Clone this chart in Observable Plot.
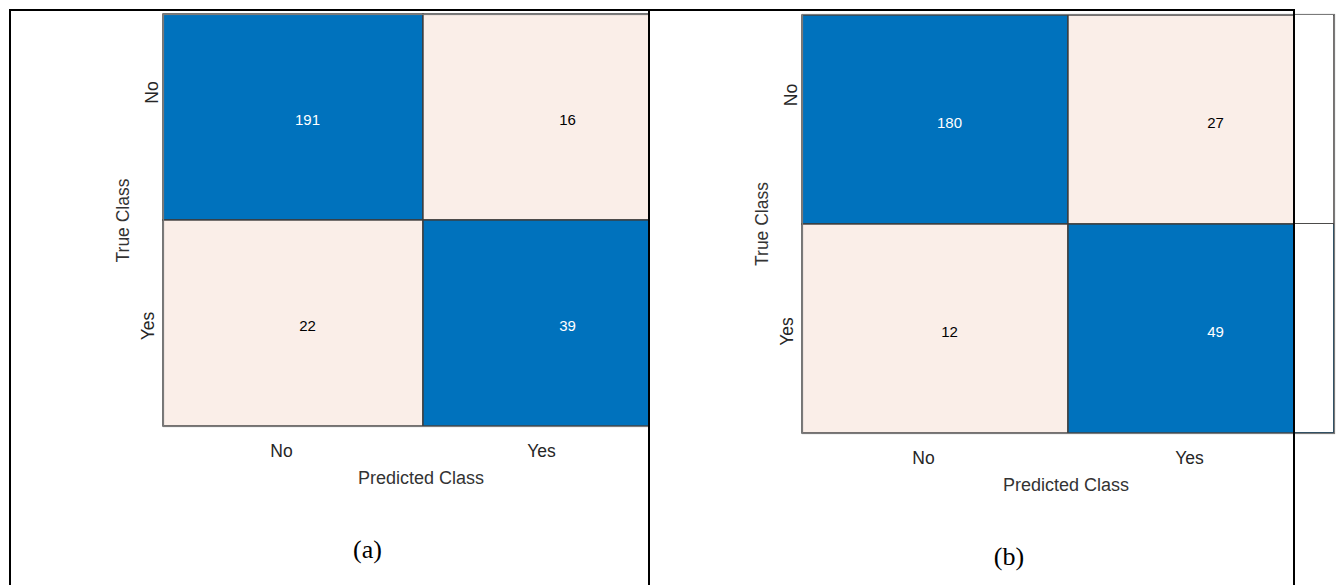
<!DOCTYPE html>
<html>
<head>
<meta charset="utf-8">
<script src="https://cdn.jsdelivr.net/npm/d3@7"></script>
<script src="https://cdn.jsdelivr.net/npm/@observablehq/plot@0.6"></script>
<style>
  html, body { margin: 0; padding: 0; background: #fff; }
  #page { position: relative; width: 1340px; height: 585px; overflow: hidden; background: #fff; }
  #page svg { position: absolute; top: 0; }
  .rule { position: absolute; background: #000; }
  .mask { position: absolute; background: #fff; }
</style>
</head>
<body>
<div id="page"></div>
<script>
// Class labels shared by both confusion matrices
const classes = ["No", "Yes"];
// Counts: rows = true class, columns = predicted class
const countsA = [[191, 16], [22, 39]];
const countsB = [[180, 27], [12, 49]];
const panelTags = ["(a)", "(b)"];
const xTitle = "Predicted Class";
const yTitle = "True Class";

const HIT = "#0072BD";
const MISS = "#FAEEE8";
const SANS = "'Liberation Sans', Arial, Helvetica, sans-serif";

function cells(counts) {
  return counts.flatMap((row, i) =>
    row.map((v, j) => ({actual: classes[i], predicted: classes[j], count: v}))
  );
}

function matrix(counts, tag, o) {
  const data = cells(counts);
  const diag = d => d.actual === d.predicted;
  const svg = Plot.plot({
    width: o.width,
    height: 585,
    marginLeft: o.left,
    marginRight: o.right,
    marginTop: 14,
    marginBottom: o.bottom,
    style: {background: "white", fontFamily: SANS, overflow: "visible"},
    x: {domain: classes, padding: 0, axis: null},
    y: {domain: classes, padding: 0, axis: null},
    color: {domain: ["hit", "miss"], range: [HIT, MISS]},
    marks: [
      Plot.cell(data, {
        x: "predicted", y: "actual",
        fill: d => diag(d) ? "hit" : "miss",
        stroke: "#3c3c3c", strokeWidth: 1.4, inset: 0
      }),
      Plot.frame({stroke: "#7a7a7a", strokeWidth: 1.2}),
      // cell counts
      Plot.text(data.filter(diag), {
        x: "predicted", y: "actual", text: d => String(d.count),
        fill: "white", fontSize: 15, dx: 14, dy: 3
      }),
      Plot.text(data.filter(d => !diag(d)), {
        x: "predicted", y: "actual", text: d => String(d.count),
        fill: "#000", fontSize: 15, dx: 14, dy: 3
      }),
      // predicted-class tick labels
      Plot.text(classes, {
        x: d => d, text: d => d, frameAnchor: "bottom", lineAnchor: "top",
        dy: 18.5, dx: -12, fontSize: 17.5, fill: "#262626"
      }),
      // true-class tick labels (rotated)
      Plot.text([classes[0]], {
        y: d => d, text: d => d, frameAnchor: "left", rotate: -90,
        textAnchor: "middle", lineAnchor: "bottom",
        dx: -5.5, dy: -25, fontSize: 17.5, fill: "#262626"
      }),
      Plot.text([classes[1]], {
        y: d => d, text: d => d, frameAnchor: "left", rotate: -90,
        textAnchor: "middle", lineAnchor: "bottom",
        dx: -9.5, dy: 2.5, fontSize: 17.5, fill: "#262626"
      }),
      // axis titles
      Plot.text([xTitle], {
        text: d => d, frameAnchor: "bottom", lineAnchor: "bottom",
        dy: 57.5, dx: -2.5, fontSize: 18, fill: "#333"
      }),
      Plot.text([yTitle], {
        text: d => d, frameAnchor: "left", rotate: -90,
        textAnchor: "middle", lineAnchor: "bottom",
        dx: -35, fontSize: 17.5, fill: "#333"
      }),
      // panel tag
      Plot.text([tag], {
        text: d => d, frameAnchor: "bottom", lineAnchor: "bottom",
        dy: 131, dx: o.tagDx, fontFamily: "'Liberation Serif', 'Times New Roman', serif",
        fontSize: 26, fill: "#000"
      })
    ]
  });
  svg.style.left = o.x + "px";
  return svg;
}

const page = document.getElementById("page");
page.appendChild(matrix(countsA, panelTags[0], {x: 0, width: 700, left: 163, right: 17, bottom: 159, tagDx: -56}));
page.appendChild(matrix(countsB, panelTags[1], {x: 649, width: 691, left: 153, right: 6, bottom: 152, tagDx: -59.5}));

// blank strip at the right edge of the second matrix
function box(cls, l, t, w, h) {
  const d = document.createElement("div");
  d.className = cls;
  Object.assign(d.style, {left: l + "px", top: t + "px", width: w + "px", height: h + "px"});
  page.appendChild(d);
}
box("mask", 1295, 15, 38.3, 207.6);
box("mask", 1295, 224.4, 38.3, 207.8);

// table rules
box("rule", 9, 9, 1286, 2);
box("rule", 9, 9, 2, 576);
box("rule", 648, 9, 2, 576);
box("rule", 1293, 9, 2, 576);
</script>
</body>
</html>
